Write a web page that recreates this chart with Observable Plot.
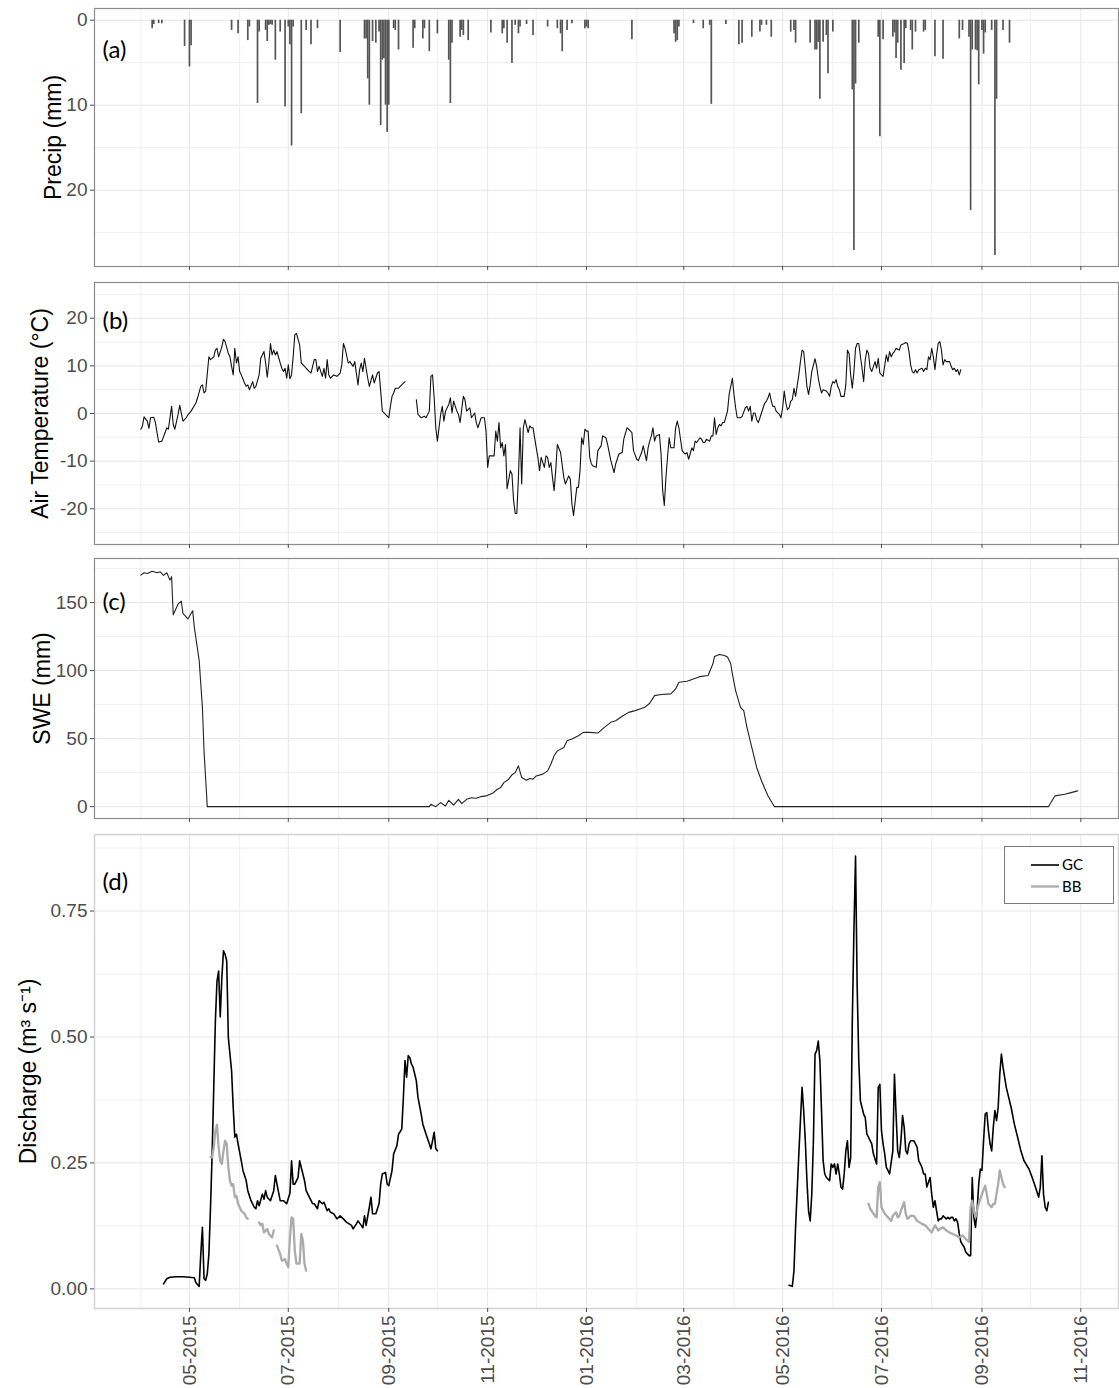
<!DOCTYPE html>
<html><head><meta charset="utf-8">
<script src="https://cdn.jsdelivr.net/npm/d3@7"></script>
<script src="https://cdn.jsdelivr.net/npm/@observablehq/plot@0.6"></script>
<style>
body{margin:0;background:#fff;}
#chart{width:1119px;}
#chart svg{display:block;}
</style></head><body><div id="chart"></div>
<script>
// ---------- data ----------
const precip = [["2015-04-08",1.0],["2015-04-09",0.5],["2015-04-12",0.4],["2015-04-14",0.4],["2015-04-28",3.1],["2015-05-01",5.5],["2015-05-02",3.0],["2015-05-27",1.2],["2015-05-31",1.6],["2015-06-06",2.4],["2015-06-07",0.8],["2015-06-12",9.8],["2015-06-13",1.4],["2015-06-17",1.2],["2015-06-18",2.5],["2015-06-19",0.6],["2015-06-20",0.5],["2015-06-21",0.6],["2015-06-23",4.7],["2015-06-26",1.4],["2015-06-29",10.2],["2015-07-01",0.8],["2015-07-02",2.9],["2015-07-03",14.8],["2015-07-04",0.8],["2015-07-09",11.0],["2015-07-12",1.2],["2015-07-15",2.9],["2015-07-19",1.0],["2015-08-02",3.8],["2015-08-17",2.2],["2015-08-18",2.2],["2015-08-19",6.9],["2015-08-20",10.0],["2015-08-22",2.5],["2015-08-24",2.7],["2015-08-26",1.4],["2015-08-27",12.4],["2015-08-28",4.7],["2015-08-29",4.5],["2015-08-30",10.0],["2015-08-31",13.2],["2015-09-01",10.0],["2015-09-04",1.0],["2015-09-05",1.2],["2015-09-07",3.5],["2015-09-16",3.3],["2015-09-17",1.0],["2015-09-22",2.2],["2015-09-23",1.0],["2015-09-26",3.7],["2015-10-01",1.6],["2015-10-08",4.7],["2015-10-09",9.8],["2015-10-10",2.7],["2015-10-15",2.0],["2015-10-16",1.2],["2015-10-17",1.8],["2015-10-20",2.4],["2015-11-03",1.5],["2015-11-10",1.6],["2015-11-11",1.0],["2015-11-13",2.7],["2015-11-16",5.1],["2015-11-18",0.6],["2015-11-20",1.6],["2015-11-21",0.8],["2015-11-25",0.5],["2015-11-29",1.8],["2015-12-08",0.8],["2015-12-14",1.0],["2015-12-16",1.6],["2015-12-17",3.7],["2015-12-20",1.2],["2015-12-23",0.4],["2015-12-31",1.0],["2016-01-01",0.8],["2016-01-02",1.0],["2016-01-29",2.3],["2016-02-24",1.6],["2016-02-25",2.6],["2016-02-26",2.4],["2016-02-27",0.8],["2016-03-07",0.4],["2016-03-13",1.0],["2016-03-17",0.6],["2016-03-18",9.9],["2016-03-27",0.5],["2016-04-04",2.9],["2016-04-06",2.7],["2016-04-12",2.0],["2016-04-17",1.4],["2016-04-18",0.6],["2016-04-21",0.6],["2016-04-24",2.0],["2016-05-06",1.4],["2016-05-08",1.2],["2016-05-09",2.7],["2016-05-18",2.7],["2016-05-21",3.5],["2016-05-22",3.5],["2016-05-23",2.6],["2016-05-24",9.3],["2016-05-26",2.6],["2016-05-28",1.8],["2016-05-29",6.3],["2016-06-01",1.4],["2016-06-13",8.2],["2016-06-14",27.1],["2016-06-15",7.5],["2016-06-17",2.7],["2016-06-29",2.0],["2016-06-30",13.7],["2016-07-02",2.3],["2016-07-08",2.0],["2016-07-09",1.5],["2016-07-10",4.5],["2016-07-11",2.7],["2016-07-13",5.9],["2016-07-15",5.1],["2016-07-16",1.0],["2016-07-19",1.2],["2016-07-20",3.5],["2016-07-22",1.4],["2016-07-27",1.4],["2016-07-28",1.2],["2016-08-03",4.3],["2016-08-08",4.6],["2016-08-18",2.2],["2016-08-20",1.2],["2016-08-24",2.0],["2016-08-25",22.4],["2016-08-26",3.5],["2016-08-28",3.5],["2016-08-29",3.6],["2016-08-30",7.6],["2016-09-01",1.2],["2016-09-02",4.0],["2016-09-03",1.5],["2016-09-07",1.2],["2016-09-09",27.7],["2016-09-10",9.3],["2016-09-14",1.2],["2016-09-18",2.7]];

const airTemp = [["2015-04-01",-3.3],["2015-04-02",-2.6],["2015-04-03",-0.7],["2015-04-05",-1.6],["2015-04-06",-3.1],["2015-04-07",-0.9],["2015-04-09",-0.8],["2015-04-10",-1.9],["2015-04-11",-4.0],["2015-04-12",-6.0],["2015-04-14",-5.8],["2015-04-16",-4.0],["2015-04-17",-3.0],["2015-04-18",-3.3],["2015-04-20",1.5],["2015-04-21",-2.3],["2015-04-22",-3.3],["2015-04-24",-0.2],["2015-04-25",1.7],["2015-04-27",-1.6],["2015-04-29",-0.9],["2015-04-30",-0.3],["2015-05-02",0.5],["2015-05-05",2.2],["2015-05-06",3.3],["2015-05-08",5.7],["2015-05-09",6.0],["2015-05-10",4.3],["2015-05-11",4.7],["2015-05-13",11.9],["2015-05-14",11.3],["2015-05-16",11.9],["2015-05-17",13.3],["2015-05-18",13.7],["2015-05-19",11.9],["2015-05-21",14.0],["2015-05-22",15.6],["2015-05-23",15.1],["2015-05-25",12.6],["2015-05-26",11.9],["2015-05-27",9.9],["2015-05-28",8.1],["2015-05-29",13.7],["2015-05-30",10.6],["2015-05-31",11.9],["2015-06-01",8.8],["2015-06-02",8.1],["2015-06-04",6.4],["2015-06-05",5.7],["2015-06-06",6.0],["2015-06-07",5.0],["2015-06-09",6.7],["2015-06-10",5.3],["2015-06-11",5.7],["2015-06-13",8.1],["2015-06-14",11.6],["2015-06-16",13.0],["2015-06-17",10.6],["2015-06-18",7.6],["2015-06-19",10.6],["2015-06-20",14.7],["2015-06-21",12.3],["2015-06-22",13.3],["2015-06-23",12.3],["2015-06-24",13.0],["2015-06-26",10.6],["2015-06-27",9.5],["2015-06-28",8.8],["2015-06-29",9.5],["2015-06-30",7.4],["2015-07-01",10.2],["2015-07-02",7.3],["2015-07-03",8.1],["2015-07-04",11.9],["2015-07-05",16.5],["2015-07-06",16.8],["2015-07-08",14.4],["2015-07-09",10.6],["2015-07-11",9.9],["2015-07-12",9.5],["2015-07-14",8.8],["2015-07-15",8.5],["2015-07-17",11.3],["2015-07-18",11.3],["2015-07-19",8.8],["2015-07-20",9.9],["2015-07-22",7.8],["2015-07-23",9.5],["2015-07-24",7.4],["2015-07-25",11.3],["2015-07-26",8.1],["2015-07-27",7.4],["2015-07-29",8.1],["2015-07-31",7.8],["2015-08-02",8.5],["2015-08-03",10.2],["2015-08-04",14.7],["2015-08-05",13.7],["2015-08-07",10.6],["2015-08-08",10.9],["2015-08-10",9.9],["2015-08-11",10.9],["2015-08-13",6.0],["2015-08-14",9.2],["2015-08-15",10.6],["2015-08-16",8.8],["2015-08-17",11.6],["2015-08-19",7.4],["2015-08-20",5.7],["2015-08-22",8.1],["2015-08-23",6.4],["2015-08-25",8.5],["2015-08-26",8.8],["2015-08-27",4.7],["2015-08-28",0.5],["2015-08-30",-0.2],["2015-09-01",-0.9],["2015-09-02",1.5],["2015-09-03",3.6],["2015-09-04",4.3],["2015-09-05",5.3],["2015-09-07",5.3],["2015-09-08",5.7],["2015-09-11",6.7],["2015-09-14",null],["2015-09-18",2.9],["2015-09-19",-0.2],["2015-09-21",-0.9],["2015-09-23",-0.6],["2015-09-24",-0.9],["2015-09-26",0.5],["2015-09-27",7.8],["2015-09-28",8.1],["2015-09-29",3.3],["2015-09-30",-3.0],["2015-10-01",-5.8],["2015-10-03",-0.2],["2015-10-04",1.5],["2015-10-05",-1.6],["2015-10-06",0.5],["2015-10-08",1.9],["2015-10-09",3.3],["2015-10-10",0.1],["2015-10-11",2.6],["2015-10-13",0.5],["2015-10-14",-0.2],["2015-10-15",-1.9],["2015-10-16",0.8],["2015-10-17",3.6],["2015-10-18",2.9],["2015-10-19",0.5],["2015-10-21",1.2],["2015-10-22",-0.9],["2015-10-24",0.1],["2015-10-25",-1.9],["2015-10-26",-3.0],["2015-10-28",-0.9],["2015-10-30",-0.9],["2015-10-31",-3.7],["2015-11-01",-11.3],["2015-11-02",-8.9],["2015-11-04",-8.9],["2015-11-05",-8.9],["2015-11-06",-3.7],["2015-11-07",-5.8],["2015-11-08",-1.9],["2015-11-09",-7.2],["2015-11-10",-6.1],["2015-11-11",-8.9],["2015-11-12",-6.5],["2015-11-13",-15.8],["2015-11-15",-12.0],["2015-11-16",-12.7],["2015-11-17",-18.3],["2015-11-18",-21.0],["2015-11-19",-21.0],["2015-11-20",-13.4],["2015-11-21",-3.0],["2015-11-22",-14.8],["2015-11-23",-3.0],["2015-11-24",-1.3],["2015-11-26",-4.0],["2015-11-27",-2.6],["2015-11-28",-3.0],["2015-11-29",-3.0],["2015-11-30",-5.1],["2015-12-01",-7.2],["2015-12-02",-9.2],["2015-12-03",-12.0],["2015-12-04",-9.2],["2015-12-06",-11.3],["2015-12-07",-8.9],["2015-12-08",-9.2],["2015-12-09",-11.3],["2015-12-10",-10.3],["2015-12-11",-13.4],["2015-12-12",-16.2],["2015-12-13",-12.0],["2015-12-14",-6.5],["2015-12-16",-8.2],["2015-12-18",-13.4],["2015-12-19",-14.8],["2015-12-21",-13.1],["2015-12-22",-13.8],["2015-12-23",-19.0],["2015-12-24",-21.4],["2015-12-26",-15.5],["2015-12-27",-15.5],["2015-12-28",-12.0],["2015-12-29",-5.1],["2015-12-30",-6.5],["2015-12-31",-3.3],["2016-01-01",-3.7],["2016-01-02",-3.7],["2016-01-03",-9.2],["2016-01-04",-10.6],["2016-01-05",-11.0],["2016-01-07",-11.3],["2016-01-08",-7.8],["2016-01-10",-6.8],["2016-01-11",-4.7],["2016-01-13",-5.1],["2016-01-14",-6.5],["2016-01-16",-9.9],["2016-01-18",-12.4],["2016-01-19",-10.6],["2016-01-21",-8.5],["2016-01-23",-8.2],["2016-01-24",-5.4],["2016-01-26",-3.0],["2016-01-27",-3.3],["2016-01-29",-4.0],["2016-01-30",-7.8],["2016-02-01",-9.6],["2016-02-02",-9.9],["2016-02-04",-8.2],["2016-02-05",-6.8],["2016-02-07",-9.9],["2016-02-08",-7.2],["2016-02-09",-5.8],["2016-02-10",-4.7],["2016-02-11",-3.0],["2016-02-12",-5.8],["2016-02-13",-4.7],["2016-02-15",-4.4],["2016-02-16",-8.5],["2016-02-17",-16.2],["2016-02-18",-19.3],["2016-02-19",-13.4],["2016-02-20",-9.2],["2016-02-21",-5.1],["2016-02-22",-7.2],["2016-02-24",-7.2],["2016-02-25",-3.0],["2016-02-26",-1.6],["2016-02-27",-3.0],["2016-02-28",-5.4],["2016-02-29",-7.8],["2016-03-01",-8.2],["2016-03-02",-8.5],["2016-03-03",-8.2],["2016-03-04",-9.6],["2016-03-06",-7.2],["2016-03-07",-7.8],["2016-03-08",-5.8],["2016-03-09",-6.1],["2016-03-11",-5.1],["2016-03-12",-5.4],["2016-03-13",-6.1],["2016-03-14",-6.1],["2016-03-15",-5.4],["2016-03-17",-5.8],["2016-03-18",-4.7],["2016-03-19",-4.7],["2016-03-20",-0.9],["2016-03-21",-4.4],["2016-03-22",-3.0],["2016-03-23",-2.3],["2016-03-24",-2.6],["2016-03-25",-1.9],["2016-03-26",-1.9],["2016-03-28",0.5],["2016-03-29",4.0],["2016-03-30",5.7],["2016-03-31",7.4],["2016-04-01",4.0],["2016-04-02",1.2],["2016-04-03",-0.9],["2016-04-04",-0.9],["2016-04-05",-0.9],["2016-04-06",-0.6],["2016-04-08",1.2],["2016-04-09",1.5],["2016-04-10",0.5],["2016-04-11",1.5],["2016-04-12",-1.6],["2016-04-13",0.1],["2016-04-14",0.1],["2016-04-15",-1.3],["2016-04-16",-1.9],["2016-04-17",-0.9],["2016-04-19",1.2],["2016-04-20",2.2],["2016-04-21",2.6],["2016-04-22",3.3],["2016-04-23",4.3],["2016-04-24",2.6],["2016-04-25",1.5],["2016-04-26",1.5],["2016-04-27",0.5],["2016-04-29",-0.2],["2016-04-30",-0.9],["2016-05-01",1.2],["2016-05-02",4.7],["2016-05-03",2.2],["2016-05-04",0.8],["2016-05-05",1.2],["2016-05-06",2.6],["2016-05-07",2.9],["2016-05-08",5.3],["2016-05-09",3.6],["2016-05-11",8.1],["2016-05-12",10.9],["2016-05-13",13.3],["2016-05-14",13.0],["2016-05-15",9.5],["2016-05-16",5.7],["2016-05-17",4.0],["2016-05-18",6.0],["2016-05-19",8.8],["2016-05-21",11.5],["2016-05-22",9.9],["2016-05-23",7.4],["2016-05-24",5.7],["2016-05-25",4.3],["2016-05-26",5.0],["2016-05-28",4.7],["2016-05-29",4.3],["2016-05-30",3.6],["2016-05-31",5.7],["2016-06-01",6.7],["2016-06-02",6.4],["2016-06-03",7.1],["2016-06-04",5.7],["2016-06-05",5.0],["2016-06-06",3.6],["2016-06-08",3.6],["2016-06-09",6.0],["2016-06-10",13.3],["2016-06-11",12.6],["2016-06-12",8.1],["2016-06-13",5.3],["2016-06-14",8.8],["2016-06-15",13.7],["2016-06-16",14.7],["2016-06-17",14.7],["2016-06-19",9.5],["2016-06-20",6.7],["2016-06-21",11.3],["2016-06-22",13.3],["2016-06-23",12.6],["2016-06-24",9.5],["2016-06-25",8.8],["2016-06-27",10.9],["2016-06-28",9.5],["2016-06-29",11.6],["2016-06-30",8.5],["2016-07-01",8.1],["2016-07-02",7.8],["2016-07-04",12.3],["2016-07-05",10.9],["2016-07-06",13.0],["2016-07-07",11.9],["2016-07-08",12.6],["2016-07-09",13.0],["2016-07-10",13.7],["2016-07-11",13.5],["2016-07-12",13.3],["2016-07-13",14.4],["2016-07-15",14.7],["2016-07-16",14.9],["2016-07-17",14.7],["2016-07-18",13.0],["2016-07-19",10.2],["2016-07-20",8.8],["2016-07-21",8.5],["2016-07-22",9.2],["2016-07-23",8.5],["2016-07-24",9.2],["2016-07-26",9.5],["2016-07-27",8.8],["2016-07-28",9.5],["2016-07-29",9.2],["2016-07-30",11.9],["2016-07-31",11.3],["2016-08-01",13.7],["2016-08-02",11.9],["2016-08-03",9.2],["2016-08-04",12.3],["2016-08-05",14.7],["2016-08-06",15.1],["2016-08-07",13.3],["2016-08-08",10.2],["2016-08-09",11.3],["2016-08-10",10.9],["2016-08-12",10.9],["2016-08-13",9.9],["2016-08-14",9.2],["2016-08-15",9.5],["2016-08-16",8.8],["2016-08-17",9.2],["2016-08-18",8.1],["2016-08-19",9.2]];

const swe = [["2015-04-01",170.2],["2015-04-03",171.9],["2015-04-05",171.4],["2015-04-08",173],["2015-04-11",171.9],["2015-04-13",172.6],["2015-04-15",170],["2015-04-17",171.9],["2015-04-19",166.5],["2015-04-20",169],["2015-04-21",141],["2015-04-24",149],["2015-04-26",151],["2015-04-27",142],["2015-04-30",138],["2015-05-03",144],["2015-05-04",132],["2015-05-07",107.5],["2015-05-09",73],["2015-05-10",41],["2015-05-12",0],["2015-09-26",0],["2015-09-27",1.7],["2015-09-30",0],["2015-10-03",3],["2015-10-06",0.5],["2015-10-08",4.7],["2015-10-11",1.2],["2015-10-14",5.4],["2015-10-16",2.2],["2015-10-19",5.4],["2015-10-22",6.6],["2015-10-25",6.2],["2015-10-28",7.4],["2015-10-31",7.9],["2015-11-04",9.8],["2015-11-07",12.8],["2015-11-09",14],["2015-11-11",17.7],["2015-11-14",20.2],["2015-11-16",23.4],["2015-11-18",25],["2015-11-20",30],["2015-11-22",21.4],["2015-11-25",19.4],["2015-11-27",20.7],["2015-11-29",20.2],["2015-12-01",22.6],["2015-12-05",23.9],["2015-12-08",26.3],["2015-12-10",31.2],["2015-12-12",37.4],["2015-12-14",41],["2015-12-18",43.5],["2015-12-20",48.4],["2015-12-23",49.7],["2015-12-27",52.1],["2015-12-30",54.6],["2016-01-03",54.6],["2016-01-08",54.1],["2016-01-12",58.3],["2016-01-16",62],["2016-01-19",63.2],["2016-01-23",66.4],["2016-01-27",69.3],["2016-01-31",70.6],["2016-02-03",71.8],["2016-02-06",73],["2016-02-09",76],["2016-02-12",81.6],["2016-02-16",82.4],["2016-02-22",82.9],["2016-02-25",86.5],["2016-02-27",91.5],["2016-03-03",92.2],["2016-03-07",93.9],["2016-03-11",95.6],["2016-03-16",96.4],["2016-03-19",105],["2016-03-20",110.4],["2016-03-23",111.9],["2016-03-26",111.1],["2016-03-28",110],["2016-03-30",105],["2016-03-31",97.6],["2016-04-02",85.3],["2016-04-05",73],["2016-04-07",70.6],["2016-04-09",58.3],["2016-04-11",48.4],["2016-04-15",28.8],["2016-04-18",18.9],["2016-04-22",7.9],["2016-04-26",0],["2016-10-12",0],["2016-10-16",7.9],["2016-10-22",9.1],["2016-10-26",10.3],["2016-10-30",11.6]];

const dischargeGC = [["2015-04-15",0.010],["2015-04-17",0.020],["2015-04-19",0.023],["2015-04-23",0.024],["2015-04-27",0.024],["2015-05-01",0.023],["2015-05-04",0.022],["2015-05-05",0.012],["2015-05-07",0.005],["2015-05-08",0.069],["2015-05-09",0.122],["2015-05-10",0.020],["2015-05-11",0.017],["2015-05-12",0.030],["2015-05-13",0.069],["2015-05-14",0.162],["2015-05-15",0.268],["2015-05-16",0.400],["2015-05-17",0.532],["2015-05-18",0.611],["2015-05-19",0.631],["2015-05-20",0.540],["2015-05-21",0.618],["2015-05-22",0.671],["2015-05-23",0.664],["2015-05-24",0.651],["2015-05-25",0.499],["2015-05-27",0.433],["2015-05-28",0.360],["2015-05-29",0.301],["2015-05-30",0.307],["2015-05-31",0.288],["2015-06-02",0.254],["2015-06-03",0.235],["2015-06-05",0.215],["2015-06-06",0.195],["2015-06-08",0.175],["2015-06-10",0.162],["2015-06-11",0.159],["2015-06-12",0.175],["2015-06-13",0.165],["2015-06-15",0.188],["2015-06-16",0.178],["2015-06-17",0.195],["2015-06-18",0.182],["2015-06-20",0.175],["2015-06-22",0.195],["2015-06-23",0.225],["2015-06-24",0.208],["2015-06-26",0.175],["2015-06-28",0.175],["2015-06-30",0.169],["2015-07-02",0.190],["2015-07-03",0.254],["2015-07-04",0.208],["2015-07-05",0.208],["2015-07-07",0.221],["2015-07-08",0.254],["2015-07-09",0.241],["2015-07-11",0.215],["2015-07-12",0.195],["2015-07-14",0.182],["2015-07-16",0.169],["2015-07-17",0.169],["2015-07-19",0.159],["2015-07-20",0.175],["2015-07-22",0.169],["2015-07-23",0.172],["2015-07-25",0.155],["2015-07-26",0.159],["2015-07-27",0.152],["2015-07-29",0.149],["2015-07-31",0.139],["2015-08-02",0.145],["2015-08-04",0.139],["2015-08-06",0.132],["2015-08-09",0.126],["2015-08-10",0.119],["2015-08-12",0.129],["2015-08-13",0.135],["2015-08-15",0.126],["2015-08-16",0.121],["2015-08-17",0.145],["2015-08-18",0.126],["2015-08-20",0.162],["2015-08-21",0.182],["2015-08-22",0.149],["2015-08-24",0.149],["2015-08-26",0.169],["2015-08-27",0.208],["2015-08-28",0.228],["2015-08-30",0.231],["2015-08-31",0.208],["2015-09-01",0.205],["2015-09-03",0.235],["2015-09-04",0.268],["2015-09-06",0.284],["2015-09-07",0.307],["2015-09-09",0.317],["2015-09-10",0.380],["2015-09-11",0.453],["2015-09-12",0.420],["2015-09-13",0.463],["2015-09-14",0.459],["2015-09-15",0.446],["2015-09-16",0.440],["2015-09-18",0.413],["2015-09-19",0.380],["2015-09-21",0.347],["2015-09-22",0.327],["2015-09-24",0.307],["2015-09-26",0.288],["2015-09-27",0.278],["2015-09-28",0.294],["2015-09-29",0.311],["2015-09-30",0.278],["2015-10-01",0.274],["2015-12-01",null],["2016-05-05",0.007],["2016-05-07",0.005],["2016-05-08",0.036],["2016-05-09",0.122],["2016-05-11",0.268],["2016-05-12",0.334],["2016-05-13",0.400],["2016-05-14",0.354],["2016-05-15",0.294],["2016-05-16",0.215],["2016-05-17",0.155],["2016-05-18",0.135],["2016-05-19",0.188],["2016-05-20",0.294],["2016-05-21",0.466],["2016-05-22",0.473],["2016-05-23",0.492],["2016-05-24",0.453],["2016-05-25",0.354],["2016-05-26",0.254],["2016-05-27",0.228],["2016-05-28",0.221],["2016-05-30",0.215],["2016-05-31",0.248],["2016-06-01",0.241],["2016-06-02",0.248],["2016-06-03",0.228],["2016-06-04",0.248],["2016-06-05",0.228],["2016-06-06",0.202],["2016-06-07",0.198],["2016-06-08",0.228],["2016-06-09",0.274],["2016-06-10",0.294],["2016-06-11",0.241],["2016-06-12",0.261],["2016-06-13",0.532],["2016-06-14",0.711],["2016-06-15",0.859],["2016-06-16",0.600],["2016-06-17",0.453],["2016-06-18",0.373],["2016-06-20",0.347],["2016-06-21",0.340],["2016-06-22",0.307],["2016-06-23",0.301],["2016-06-25",0.288],["2016-06-26",0.268],["2016-06-28",0.248],["2016-06-29",0.400],["2016-06-30",0.406],["2016-07-01",0.314],["2016-07-02",0.288],["2016-07-03",0.268],["2016-07-04",0.241],["2016-07-05",0.235],["2016-07-06",0.228],["2016-07-08",0.274],["2016-07-09",0.426],["2016-07-10",0.347],["2016-07-11",0.274],["2016-07-12",0.261],["2016-07-13",0.294],["2016-07-14",0.344],["2016-07-15",0.321],["2016-07-16",0.274],["2016-07-17",0.268],["2016-07-18",0.288],["2016-07-19",0.294],["2016-07-21",0.294],["2016-07-22",0.288],["2016-07-23",0.281],["2016-07-24",0.254],["2016-07-25",0.248],["2016-07-26",0.241],["2016-07-27",0.228],["2016-07-28",0.228],["2016-07-29",0.202],["2016-07-31",0.221],["2016-08-01",0.188],["2016-08-02",0.162],["2016-08-03",0.175],["2016-08-04",0.155],["2016-08-05",0.135],["2016-08-06",0.139],["2016-08-07",0.139],["2016-08-08",0.145],["2016-08-10",0.139],["2016-08-11",0.142],["2016-08-12",0.139],["2016-08-13",0.142],["2016-08-14",0.142],["2016-08-15",0.135],["2016-08-16",0.139],["2016-08-17",0.132],["2016-08-18",0.109],["2016-08-19",0.093],["2016-08-21",0.083],["2016-08-22",0.073],["2016-08-24",0.066],["2016-08-25",0.066],["2016-08-26",0.221],["2016-08-27",0.142],["2016-08-28",0.122],["2016-08-29",0.155],["2016-08-30",0.208],["2016-08-31",0.238],["2016-09-01",0.235],["2016-09-02",0.294],["2016-09-03",0.347],["2016-09-04",0.350],["2016-09-05",0.314],["2016-09-06",0.288],["2016-09-07",0.274],["2016-09-08",0.321],["2016-09-09",0.354],["2016-09-10",0.334],["2016-09-11",0.360],["2016-09-12",0.426],["2016-09-13",0.466],["2016-09-14",0.440],["2016-09-16",0.400],["2016-09-19",0.360],["2016-09-21",0.327],["2016-09-23",0.301],["2016-09-25",0.274],["2016-09-27",0.254],["2016-09-30",0.238],["2016-10-02",0.221],["2016-10-04",0.202],["2016-10-06",0.182],["2016-10-07",0.202],["2016-10-08",0.264],["2016-10-09",0.188],["2016-10-10",0.162],["2016-10-11",0.155],["2016-10-12",0.172]];

const dischargeBB = [["2015-05-14",0.262],["2015-05-15",0.261],["2015-05-16",0.281],["2015-05-17",0.314],["2015-05-18",0.326],["2015-05-19",0.281],["2015-05-20",0.254],["2015-05-21",0.248],["2015-05-22",0.274],["2015-05-23",0.294],["2015-05-24",0.288],["2015-05-25",0.241],["2015-05-26",0.215],["2015-05-27",0.205],["2015-05-28",0.208],["2015-05-29",0.182],["2015-05-30",0.185],["2015-05-31",0.169],["2015-06-01",0.162],["2015-06-02",0.155],["2015-06-04",0.149],["2015-06-05",0.142],["2015-06-06",0.139],["2015-06-09",null],["2015-06-13",0.132],["2015-06-14",0.126],["2015-06-15",0.129],["2015-06-16",0.112],["2015-06-18",0.119],["2015-06-19",0.109],["2015-06-21",0.102],["2015-06-22",0.116],["2015-06-23",null],["2015-06-24",0.086],["2015-06-26",0.069],["2015-06-27",0.056],["2015-06-29",0.059],["2015-06-30",0.050],["2015-07-01",0.043],["2015-07-02",0.102],["2015-07-03",0.142],["2015-07-04",0.139],["2015-07-05",0.076],["2015-07-06",0.050],["2015-07-08",0.050],["2015-07-09",0.109],["2015-07-10",0.096],["2015-07-11",0.050],["2015-07-12",0.036],["2015-12-01",null],["2016-06-23",0.169],["2016-06-24",0.159],["2016-06-27",0.145],["2016-06-28",0.142],["2016-06-29",0.202],["2016-06-30",0.212],["2016-07-01",0.162],["2016-07-03",0.149],["2016-07-05",0.142],["2016-07-07",0.135],["2016-07-08",0.145],["2016-07-10",0.152],["2016-07-11",0.142],["2016-07-12",0.145],["2016-07-13",0.155],["2016-07-15",0.172],["2016-07-16",0.149],["2016-07-17",0.139],["2016-07-19",0.145],["2016-07-21",0.145],["2016-07-23",0.135],["2016-07-26",0.129],["2016-07-28",0.126],["2016-07-30",0.119],["2016-08-01",0.112],["2016-08-03",0.126],["2016-08-05",0.116],["2016-08-06",0.119],["2016-08-08",0.122],["2016-08-10",0.116],["2016-08-12",0.112],["2016-08-14",0.109],["2016-08-16",0.106],["2016-08-18",0.102],["2016-08-20",0.106],["2016-08-22",0.099],["2016-08-24",0.093],["2016-08-25",0.162],["2016-08-26",0.175],["2016-08-27",0.155],["2016-08-28",0.142],["2016-08-30",0.169],["2016-09-01",0.188],["2016-09-03",0.205],["2016-09-04",0.188],["2016-09-05",0.169],["2016-09-07",0.162],["2016-09-08",0.169],["2016-09-09",0.169],["2016-09-11",0.208],["2016-09-12",0.235],["2016-09-14",0.208],["2016-09-15",0.202]];

const majorMonths = ["2015-05-01","2015-07-01","2015-09-01","2015-11-01","2016-01-01","2016-03-01","2016-05-01","2016-07-01","2016-09-01","2016-11-01"];
const minorMonths = ["2015-04-01","2015-06-01","2015-08-01","2015-10-01","2015-12-01","2016-02-01","2016-04-01","2016-06-01","2016-08-01","2016-10-01"];
const xLimits = ["2015-03-03T10:00:00Z","2016-11-24T06:00:00Z"];

const precipTicks = [0,10,20], precipMinor = [5,15,25], precipLimits = [-1.38, 28.98];
const tempTicks = [-20,-10,0,10,20], tempMinor = [-25,-15,-5,5,15,25], tempLimits = [-27.5, 27.5];
const sweTicks = [0,50,100,150], sweMinor = [25,75,125,175], sweLimits = [-8.7, 182.4];
const qTicks = [0,0.25,0.5,0.75], qMinor = [0.125,0.375,0.625,0.875], qLimits = [-0.039, 0.902];

const series = [{name:"GC", color:"#000000", width:1.6}, {name:"BB", color:"#ababab", width:2.3}];

// ---------- build ----------
const rows = a => a.map(([d, v]) => ({date: new Date(d), v}));
const majorD = majorMonths.map(d => new Date(d));
const minorD = minorMonths.map(d => new Date(d));
const xDomain = xLimits.map(d => new Date(d));
const fmtMonth = d3.utcFormat("%m-%Y");

function panel(o) {
  const marks = [
    Plot.gridY(o.minor, {stroke: "#efefef", strokeOpacity: 1}),
    Plot.gridY(o.major, {stroke: "#e6e6e6", strokeOpacity: 1}),
    Plot.gridX(minorD, {stroke: "#efefef", strokeOpacity: 1}),
    Plot.gridX(majorD, {stroke: "#e6e6e6", strokeOpacity: 1}),
    ...o.marks,
    Plot.frame({stroke: o.frameStroke || "#8c8c8c", strokeWidth: o.frameWidth || 1.2}),
    Plot.axisY(o.major, {tickSize: 4, tickPadding: 3, tickFormat: o.fmt || (d => String(d)), label: null, fontSize: 19}),
    o.xLabels
      ? Plot.axisX(majorD, {tickSize: 4, tickPadding: 3, tickRotate: -90, tickFormat: fmtMonth, label: null, fontSize: 19})
      : Plot.axisX(majorD, {tickSize: 4, tickFormat: () => "", label: null}),
    Plot.text([o.title], {text: d => d, frameAnchor: "left", dx: o.titleDx, rotate: -90, fontSize: 23, fill: "#000", textAnchor: "middle", lineAnchor: "middle"}),
    Plot.text([o.tag], {text: d => d, frameAnchor: "top-left", dx: 8, dy: o.tagDy, fontSize: 24, fill: "#000", textAnchor: "start", fontFamily: "Lato, 'Open Sans', sans-serif"})
  ];
  return Plot.plot({
    width: 1119, height: o.height,
    marginLeft: 94, marginRight: 1, marginTop: o.mt, marginBottom: o.mb,
    style: {fontFamily: "'Liberation Sans', Arial, sans-serif", fontSize: "19px", color: "#4d4d4d", background: "white", overflow: "visible"},
    x: {type: "utc", domain: xDomain},
    y: {domain: o.domain, reverse: !!o.reverse},
    marks
  });
}

const chart = document.getElementById("chart");

chart.appendChild(panel({
  height: 274, mt: 8, mb: 8, domain: precipLimits, reverse: true,
  major: precipTicks, minor: precipMinor, title: "Precip (mm)", titleDx: -41, tag: "(a)", tagDy: 32,
  marks: [Plot.ruleX(rows(precip), {x: "date", y1: 0, y2: "v", stroke: "#555555", strokeWidth: 1.7})]
}));

chart.appendChild(panel({
  height: 276, mt: 8, mb: 6, domain: tempLimits,
  major: tempTicks, minor: tempMinor, title: "Air Temperature (°C)", titleDx: -54, tag: "(b)", tagDy: 29,
  marks: [Plot.line(rows(airTemp), {x: "date", y: "v", stroke: "#111", strokeWidth: 1.1})]
}));

chart.appendChild(panel({
  height: 274, mt: 8, mb: 6, domain: sweLimits,
  major: sweTicks, minor: sweMinor, title: "SWE (mm)", titleDx: -52, tag: "(c)", tagDy: 34,
  marks: [Plot.line(rows(swe), {x: "date", y: "v", stroke: "#222", strokeWidth: 1.1})]
}));

const svgD = panel({
  height: 564, mt: 10, mb: 80, domain: qLimits, xLabels: true,
  major: qTicks, minor: qMinor, fmt: d3.format(".2f"), title: "Discharge (m³ s⁻¹)", titleDx: -66, tag: "(d)", tagDy: 38,
  frameStroke: "#d2d2d2", frameWidth: 1.5,
  marks: [
    Plot.line(rows(dischargeGC), {x: "date", y: "v", stroke: series[0].color, strokeWidth: series[0].width}),
    Plot.line(rows(dischargeBB), {x: "date", y: "v", stroke: series[1].color, strokeWidth: series[1].width})
  ]
});
chart.appendChild(svgD);

// legend (layout element)
const lg = d3.select(svgD).append("g").attr("font-family", "Lato, 'Open Sans', sans-serif").attr("font-size", 15).attr("text-anchor", "start");
lg.append("rect").attr("x", 1004.5).attr("y", 22.5).attr("width", 109).attr("height", 57)
  .attr("fill", "#fff").attr("stroke", "#7a7a7a").attr("stroke-width", 1);
series.forEach((s, i) => {
  const y = 41 + i * 21.5;
  lg.append("line").attr("x1", 1031).attr("x2", 1059).attr("y1", y).attr("y2", y)
    .attr("stroke", s.color).attr("stroke-width", s.width);
  lg.append("text").attr("x", 1062).attr("y", y).attr("dy", "0.35em").attr("text-anchor", "start").attr("fill", "#000").text(s.name);
});
</script></body></html>
